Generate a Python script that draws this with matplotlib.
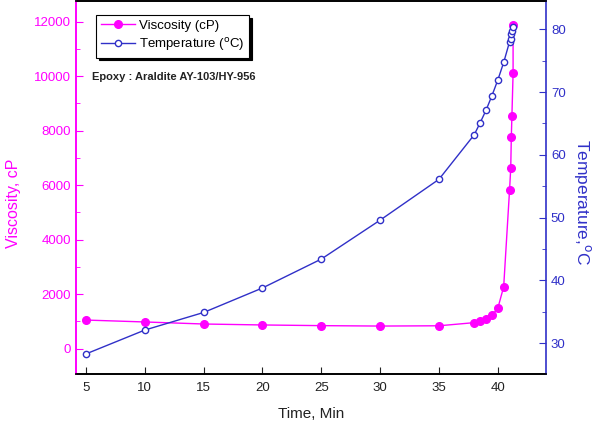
import matplotlib
matplotlib.use("Agg")
import matplotlib.pyplot as plt
from matplotlib.ticker import MultipleLocator

plt.rcParams['font.family'] = ['Liberation Sans', 'DejaVu Sans']

# viscosity curve (cP)
visc_time = [5, 10, 15, 20, 25, 30, 35, 38, 38.5, 39, 39.5, 40, 40.5,
             41.0, 41.1, 41.15, 41.2, 41.3, 41.3]
viscosity = [1050, 980, 905, 870, 845, 830, 840, 955, 1015, 1080, 1225,
             1480, 2270, 5820, 6620, 7770, 8540, 10100, 11870]

# temperature curve (deg C)
temp_time = [5, 10, 15, 20, 25, 30, 35, 38, 38.5, 39, 39.5, 40, 40.5,
             41.0, 41.1, 41.15, 41.2, 41.3]
temperature = [28.3, 32.1, 34.9, 38.8, 43.4, 49.6, 56.1, 63.2, 65.1, 67.1,
               69.4, 71.9, 74.7, 78.0, 78.4, 79.2, 79.7, 80.3]

magenta = '#ff00ff'
blue = '#3030c8'

fig = plt.figure(figsize=(5.95, 4.23), dpi=100)
ax = fig.add_axes([0.1277, 0.1158, 0.79, 0.882])
ax2 = ax.twinx()

l1, = ax.plot(visc_time, viscosity, '-o', color=magenta, lw=1,
              markersize=5.5, label='Viscosity (cP)')
l2, = ax2.plot(temp_time, temperature, '-o', color=blue, lw=1,
               markersize=4.5, markerfacecolor='white', markeredgewidth=1,
               label='Temperature ($^{\\rm o}$C)')

ax.set_xlim(4.15, 44.1)
ax.set_ylim(-930, 12760)
ax2.set_ylim(25.1, 84.5)

ax.xaxis.set_major_locator(MultipleLocator(5))
ax.yaxis.set_major_locator(MultipleLocator(2000))
ax.yaxis.set_minor_locator(MultipleLocator(1000))
ax2.yaxis.set_major_locator(MultipleLocator(10))
ax2.yaxis.set_minor_locator(MultipleLocator(5))

ax.tick_params(axis='x', direction='in', length=5, labelsize=9.5,
               colors='#222222', pad=6)
ax.tick_params(axis='y', which='both', direction='in', colors=magenta,
               labelsize=9.5)
ax.tick_params(axis='y', which='major', length=5)
ax.tick_params(axis='y', which='minor', length=3)
ax2.tick_params(axis='y', which='both', direction='in', colors=blue,
                labelsize=9.5)
ax2.tick_params(axis='y', which='major', length=5)
ax2.tick_params(axis='y', which='minor', length=3)

ax.spines['left'].set_color(magenta)
ax2.spines['left'].set_color(magenta)
ax2.spines['right'].set_color(blue)
for a in (ax, ax2):
    for s in a.spines.values():
        s.set_linewidth(1.2)
ax.spines['right'].set_visible(False)

ax.set_xlabel('Time, Min', fontsize=11, color='#222222', labelpad=9)
ax.set_ylabel('Viscosity, cP', fontsize=11.5, color=magenta)
ax.yaxis.set_label_coords(-0.118, 0.458)
ax2.set_ylabel('Temperature,$^{\\rm o}$C', fontsize=12.5, color=blue,
               rotation=270)
ax2.yaxis.set_label_coords(1.1, 0.46)

leg = ax.legend(handles=[l1, l2], loc='upper left',
                bbox_to_anchor=(0.043, 0.962), fontsize=9.5, frameon=True,
                fancybox=False, shadow={'color': 'black', 'alpha': 1},
                handlelength=2.6, borderpad=0.35, labelspacing=0.3,
                handletextpad=0.3, borderaxespad=0)
leg.get_frame().set_edgecolor('black')
leg.get_frame().set_linewidth(0.8)

ax.text(0.034, 0.797, 'Epoxy : Araldite AY-103/HY-956', transform=ax.transAxes,
        fontsize=8, fontweight='bold', color='#222222', va='center')

fig.savefig('out.png', dpi=100)
